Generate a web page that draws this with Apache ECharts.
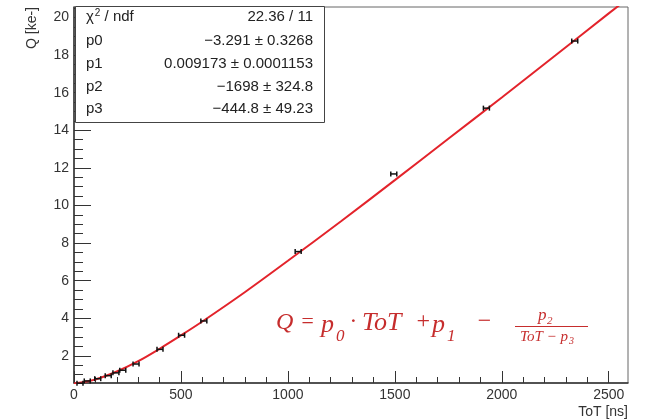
<!DOCTYPE html>
<html>
<head>
<meta charset="utf-8">
<script src="https://cdn.jsdelivr.net/npm/echarts@6/dist/echarts.min.js"></script>
<style>
  html, body { margin: 0; padding: 0; background: #fff; }
  #chart { width: 646px; height: 419px; }
</style>
</head>
<body>
<div id="chart"></div>
<script>
// measured points (ToT in ns, Q in ke-), with x errors
const totValues = [28, 62, 111, 160, 196, 228, 290, 402, 503, 607, 1048, 1495, 1928, 2341];
const qValues = [0.55, 0.67, 0.79, 0.95, 1.10, 1.24, 1.57, 2.35, 3.10, 3.86, 7.55, 11.68, 15.18, 18.75];
const totErrors = [14, 14, 14, 14, 14, 14, 14, 14, 14, 14, 14, 14, 14, 14];

// fit curve
const fitToT = [0, 100, 200, 300, 400, 500, 600, 800, 1000, 1250, 1500, 1750, 2000, 2250, 2500, 2600];
const fitQ = [0.53, 0.75, 1.17, 1.72, 2.38, 3.09, 3.83, 5.40, 7.06, 9.18, 11.35, 13.55, 15.75, 17.98, 20.22, 21.10];

// tick positions
const xMajorTicks = [0, 500, 1000, 1500, 2000, 2500];
const xMinorTicks = [100, 200, 300, 400, 600, 700, 800, 900, 1100, 1200, 1300, 1400,
  1600, 1700, 1800, 1900, 2100, 2200, 2300, 2400];
const yMajorTicks = [2, 4, 6, 8, 10, 12, 14, 16, 18, 20];
const yMinorTicks = [1, 1.5, 2.5, 3, 3.5, 4.5, 5, 5.5, 6.5, 7, 7.5, 8.5, 9, 9.5, 10.5, 11, 11.5,
  12.5, 13, 13.5, 14.5, 15, 15.5, 16.5, 17, 17.5, 18.5, 19, 19.5, 20.5];

// fit box rows
const statNames = ["p0", "p1", "p2", "p3"];
const statValues = ["\u22123.291 \u00b1 0.3268", "0.009173 \u00b1 0.0001153", "\u22121698 \u00b1 324.8", "\u2212444.8 \u00b1 49.23"];
const chiText = "22.36 / 11";

const xMin = 0, xMax = 2590, yMin = 0.56, yMax = 20.56;

const myChart = echarts.init(document.getElementById("chart"));

const points = totValues.map((t, i) => [t, qValues[i], totErrors[i]]);
const fitLine = fitToT.map((t, i) => [t, fitQ[i]]);

const labelFont = { fontFamily: "Liberation Sans, Arial, sans-serif", fontSize: 14, color: "#333" };

// stats box
const boxX = 75.5, boxY = 6.5, boxW = 249, boxH = 116;
const rowY = [17, 41, 64, 87, 109];
const boxGraphics = [
  {
    type: "rect", z: 100,
    shape: { x: boxX, y: boxY, width: boxW, height: boxH },
    style: { fill: "#fff", stroke: "#444", lineWidth: 1 }
  },
  {
    type: "text", z: 101, x: 86, y: rowY[0],
    style: {
      text: "{a|\u03c7}{s|2}{a| / ndf}",
      verticalAlign: "middle",
      rich: {
        a: { fontFamily: "Liberation Sans, Arial", fontSize: 15, fill: "#222" },
        s: { fontFamily: "Liberation Sans, Arial", fontSize: 10, fill: "#222", padding: [0, 0, 8, 1] }
      }
    }
  },
  {
    type: "text", z: 101, x: 313, y: rowY[0],
    style: { text: chiText, align: "right", verticalAlign: "middle", font: "15px Liberation Sans, Arial", fill: "#222" }
  }
];
statNames.forEach((n, i) => {
  boxGraphics.push({
    type: "text", z: 101, x: 86, y: rowY[i + 1],
    style: { text: n, verticalAlign: "middle", font: "15px Liberation Sans, Arial", fill: "#222" }
  });
  boxGraphics.push({
    type: "text", z: 101, x: 313, y: rowY[i + 1],
    style: { text: statValues[i], align: "right", verticalAlign: "middle", font: "15px Liberation Sans, Arial", fill: "#222" }
  });
});

// formula in red, piece by piece
const red = "#c62d2d";
const fSerif = "Liberation Serif, DejaVu Serif, serif";
function ftext(str, x, y, size, align) {
  return {
    type: "text", z: 50, x: x, y: y,
    style: {
      text: str, align: align || "left", verticalAlign: "middle",
      font: "italic " + size + "px " + fSerif, fill: red
    }
  };
}
const formula = [
  ftext("Q", 276, 323, 24),
  ftext("=", 300, 322, 22),
  ftext("p", 321, 325, 26),
  ftext("0", 336, 337, 17),
  ftext("\u00b7", 350, 322, 24),
  ftext("ToT", 362, 323, 26),
  ftext("+", 415, 322, 24),
  ftext("p", 432, 325, 26),
  ftext("1", 447, 337, 17),
  ftext("\u2212", 476, 322, 24),
  {
    type: "line", z: 50,
    shape: { x1: 515, y1: 326.5, x2: 588, y2: 326.5 },
    style: { stroke: red, lineWidth: 1.2 }
  },
  ftext("p", 538, 316, 17),
  ftext("2", 547, 321, 11),
  ftext("ToT \u2212 p", 520, 337, 15),
  ftext("3", 569, 341, 10)
];

const option = {
  animation: false,
  backgroundColor: "#fff",
  grid: {
    left: 74, right: 18, top: 7, bottom: 36,
    show: true, borderColor: "#666", borderWidth: 1
  },
  xAxis: [
    {
      type: "value", min: xMin, max: xMax,
      name: "ToT [ns]", nameLocation: "end", nameGap: 0,
      nameTextStyle: Object.assign({}, labelFont, { align: "right", verticalAlign: "top", padding: [22, 0, 0, 0] }),
      axisLine: { onZero: false, lineStyle: { color: "#333", width: 1.5 } },
      axisTick: { inside: true, length: 12, customValues: xMajorTicks, lineStyle: { color: "#333" } },
      axisLabel: Object.assign({ customValues: xMajorTicks, margin: 5, formatter: (v) => String(v) }, labelFont),
      splitLine: { show: false }
    },
    {
      type: "value", min: xMin, max: xMax, position: "bottom",
      axisLine: { show: false, onZero: false },
      axisTick: { inside: true, length: 6, customValues: xMinorTicks, lineStyle: { color: "#333" } },
      axisLabel: { show: false },
      splitLine: { show: false }
    }
  ],
  yAxis: [
    {
      type: "value", min: yMin, max: yMax,
      name: "Q [ke-]", nameLocation: "end", nameRotate: 90, nameGap: 0,
      nameTextStyle: Object.assign({}, labelFont, { align: "right", verticalAlign: "bottom", padding: [0, 0, 35, 0] }),
      axisLine: { onZero: false, lineStyle: { color: "#333", width: 1.5 } },
      axisTick: { inside: true, length: 17, customValues: yMajorTicks, lineStyle: { color: "#333" } },
      axisLabel: Object.assign({ customValues: yMajorTicks, margin: 5, formatter: (v) => String(v) }, labelFont),
      splitLine: { show: false }
    },
    {
      type: "value", min: yMin, max: yMax, position: "left",
      axisLine: { show: false, onZero: false },
      axisTick: { inside: true, length: 9, customValues: yMinorTicks, lineStyle: { color: "#333" } },
      axisLabel: { show: false },
      splitLine: { show: false }
    }
  ],
  series: [
    {
      name: "fit",
      type: "line",
      data: fitLine,
      smooth: 0.3,
      symbol: "none",
      clip: true,
      lineStyle: { color: "#e3232b", width: 2 },
      z: 3
    },
    {
      name: "data",
      type: "custom",
      data: points,
      z: 4,
      renderItem: function (params, api) {
        const lo = api.coord([api.value(0) - api.value(2), api.value(1)]);
        const hi = api.coord([api.value(0) + api.value(2), api.value(1)]);
        const st = { stroke: "#111", lineWidth: 1.5 };
        return {
          type: "group",
          children: [
            { type: "line", shape: { x1: lo[0], y1: lo[1], x2: hi[0], y2: hi[1] }, style: st },
            { type: "line", shape: { x1: lo[0], y1: lo[1] - 2.5, x2: lo[0], y2: lo[1] + 2.5 }, style: st },
            { type: "line", shape: { x1: hi[0], y1: hi[1] - 2.5, x2: hi[0], y2: hi[1] + 2.5 }, style: st }
          ]
        };
      }
    }
  ],
  graphic: boxGraphics.concat(formula)
};

myChart.setOption(option);
</script>
</body>
</html>
